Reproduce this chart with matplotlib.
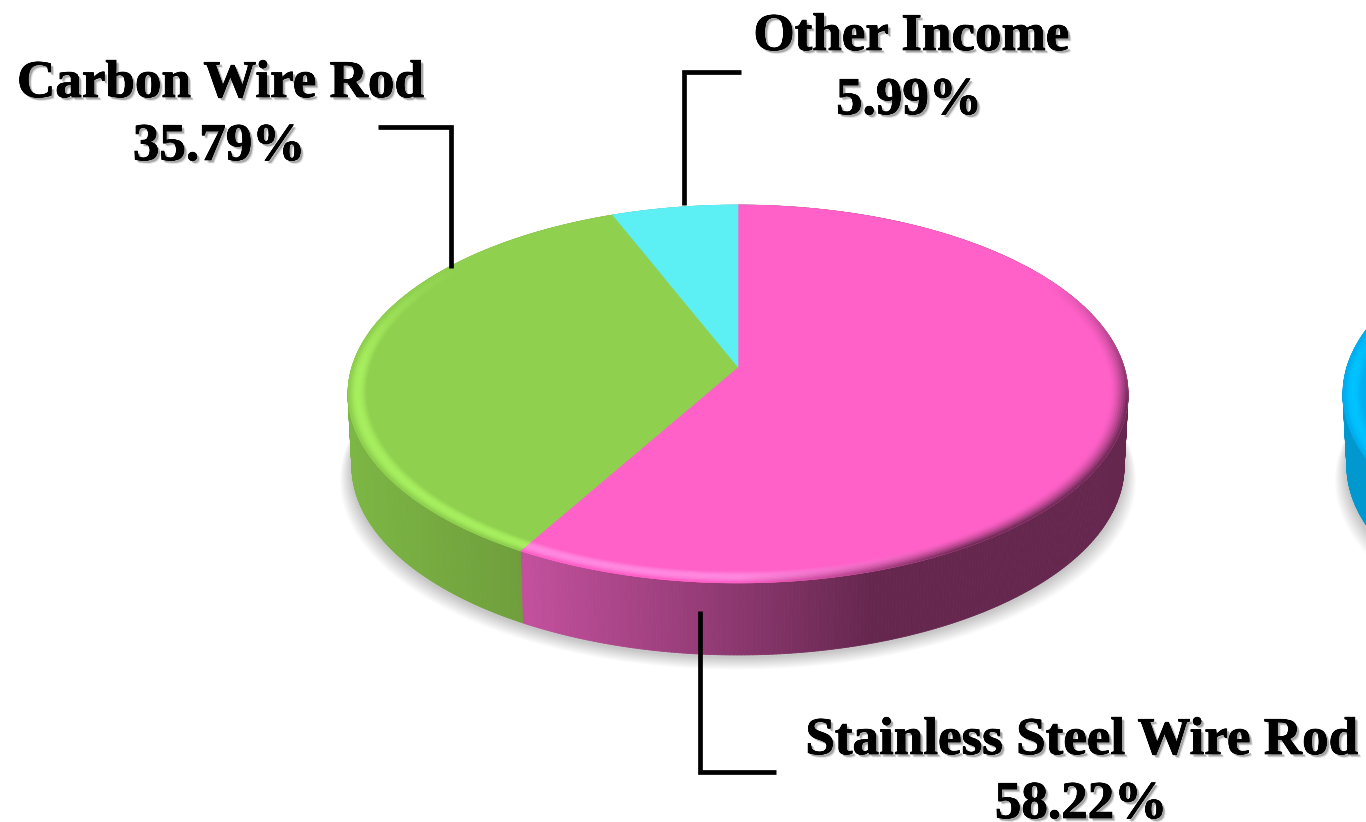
import numpy as np
import matplotlib
matplotlib.use('Agg')
import matplotlib.pyplot as plt
import matplotlib.patheffects as pe
from matplotlib.collections import PolyCollection
from matplotlib.colors import to_rgb

categorias = ['Stainless Steel Wire Rod', 'Carbon Wire Rod', 'Other Income']
valores = [58.22, 35.79, 5.99]
rotulos = ['58.22%', '35.79%', '5.99%']

cores_topo = ['#ff61c8', '#90d04f', '#5cf0f4']
cores_claro = ['#ff8ae0', '#a8f060', '#80ffff']
# (x relative to centre, colour) for the side wall
cores_lado = [
    [(-211, '#c2509c'), (-38, '#963c78'), (132, '#66274f')],
    [(-386, '#7cb644'), (-213, '#6f9e3c')],
    [(-386, '#45b0b5'), (386, '#45b0b5')],
]

# second pie, only its edge is in the picture
outro_valores = [100]
outro_topo = ['#00aeef']
outro_claro = ['#00c4ff']
outro_lado = [[(-386, '#0098cf'), (386, '#0098cf')]]

CX = 738
CY = 367
A = 185.1
B = -0.1429
C = 386
ALTURA = 72


def projeta(ang, r=1.0, cx=CX, desce=0, encolhe=1.0):
    u = r * np.sin(ang)
    v = -r * np.cos(ang)
    d = 1 + B * v
    return cx + encolhe * C * u / d, CY + desce + A * v / d


def mistura(c1, c2, t):
    a = np.array(to_rgb(c1))
    b = np.array(to_rgb(c2))
    return a + (b - a) * t


def cor_lado(paradas, dx):
    xs = [p[0] for p in paradas]
    rgb = np.array([to_rgb(p[1]) for p in paradas])
    return [np.interp(dx, xs, rgb[:, i]) for i in range(3)]


def desenha_pizza(ax, vals, topo, claro, lado, cx):
    limites = np.concatenate([[0], np.cumsum(vals)]) / sum(vals) * 2 * np.pi

    # soft shadow under the pie
    t = np.linspace(0, 2 * np.pi, 361)
    for k in range(14, 0, -1):
        x, y = projeta(t, 1.0, cx, ALTURA + 4, 0.99)
        esc = 1 + k * 0.0022
        ax.fill(cx + (x - cx) * esc, y + k * 0.9 - 2, color='#000000', alpha=0.017, lw=0, zorder=1)

    # side wall
    for i in range(len(vals)):
        ts = np.linspace(limites[i], limites[i + 1], int(np.degrees(limites[i + 1] - limites[i])) * 2 + 2)
        quads = []
        cores = []
        for a, b in zip(ts[:-1], ts[1:]):
            x1, y1 = projeta(a, 1.0, cx)
            x2, y2 = projeta(b, 1.0, cx)
            x3, y3 = projeta(b, 1.0, cx, ALTURA, 0.99)
            x4, y4 = projeta(a, 1.0, cx, ALTURA, 0.99)
            quads.append([(x1, y1), (x2, y2), (x3, y3), (x4, y4)])
            cores.append(cor_lado(lado[i], (x1 + x2) / 2 - cx))
        ax.add_collection(PolyCollection(quads, facecolors=cores, edgecolors=cores, linewidths=0.6, zorder=2))

    # top faces
    for i in range(len(vals)):
        ts = np.linspace(limites[i], limites[i + 1], 300)
        x, y = projeta(ts, 1.0, cx)
        if len(vals) > 1:
            x = np.concatenate([[cx], x])
            y = np.concatenate([[CY], y])
        ax.fill(x, y, color=topo[i], lw=0.4, zorder=3)

    # bevel round the rim: bright lower left, dark lower right, nothing at the back
    aneis = np.linspace(0.955, 1.0, 10)
    for i in range(len(vals)):
        ts = np.linspace(limites[i], limites[i + 1], int(np.degrees(limites[i + 1] - limites[i])) * 2 + 2)
        quads = []
        cores = []
        for a, b in zip(ts[:-1], ts[1:]):
            m = (a + b) / 2
            u = np.sin(m)
            v = -np.cos(m)
            lado_luz = np.clip((0.5 - u) / 0.5, 0, 1)
            brilho = np.clip((v + 0.6) / 0.6, 0, 1) * lado_luz
            escuro = np.clip((v + 0.5) / 0.7, 0, 1) * (1 - lado_luz)
            for r1, r2 in zip(aneis[:-1], aneis[1:]):
                f = ((r1 + r2) / 2 - aneis[0]) / (aneis[-1] - aneis[0])
                x1, y1 = projeta(a, r1, cx)
                x2, y2 = projeta(b, r1, cx)
                x3, y3 = projeta(b, r2, cx)
                x4, y4 = projeta(a, r2, cx)
                quads.append([(x1, y1), (x2, y2), (x3, y3), (x4, y4)])
                cor = mistura(topo[i], claro[i], brilho * np.sin(np.pi * min(f * 1.1, 1)) ** 0.8)
                cor = cor + (np.array(to_rgb(lado[i][-1][1])) - cor) * escuro * f ** 1.6
                cores.append(cor)
        ax.add_collection(PolyCollection(quads, facecolors=cores, edgecolors=cores, linewidths=0.4, zorder=4))


fig = plt.figure(figsize=(13.66, 8.22), dpi=100, facecolor='white')
ax = fig.add_axes([0, 0, 1, 1])
ax.set_xlim(0, 1366)
ax.set_ylim(822, 0)
ax.axis('off')

desenha_pizza(ax, valores, cores_topo, cores_claro, cores_lado, CX)
desenha_pizza(ax, outro_valores, outro_topo, outro_claro, outro_lado, 1733)

# leader lines
guias = [
    ([700, 700, 776], [611, 772, 772]),
    ([378, 451, 451], [127, 127, 268]),
    ([741, 684, 684], [72, 72, 205]),
]
for gx, gy in guias:
    ax.plot(gx, gy, color='black', lw=3.4, solid_joinstyle='miter', solid_capstyle='butt', zorder=6)

sombra = [
    pe.withSimplePatchShadow(offset=(2.4, -2.4), shadow_rgbFace='#000000', alpha=0.13),
    pe.withSimplePatchShadow(offset=(1.7, -1.7), shadow_rgbFace='#000000', alpha=0.25),
    pe.withStroke(linewidth=0.5, foreground='black'),
]
pos_nome = [(1081, 754), (220, 97), (911, 50)]
pos_valor = [(1081, 818), (219, 160), (909, 114)]
for i in range(len(categorias)):
    ax.text(pos_nome[i][0], pos_nome[i][1], categorias[i], family=['Liberation Serif', 'DejaVu Serif'],
            weight='bold', fontsize=38.2, ha='center', va='baseline', color='black', path_effects=sombra, zorder=7)
    ax.text(pos_valor[i][0], pos_valor[i][1], rotulos[i], family=['Liberation Serif', 'DejaVu Serif'],
            weight='bold', fontsize=38.2, ha='center', va='baseline', color='black', path_effects=sombra, zorder=7)

plt.savefig('out.png', dpi=100)
